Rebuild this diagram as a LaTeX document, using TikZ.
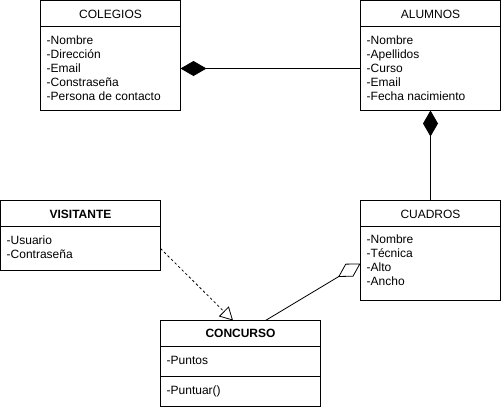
\documentclass[tikz,border=0pt]{standalone}
\usepackage{fontspec}
\setmainfont{Liberation Sans}
\usetikzlibrary{arrows.meta}
\tikzset{
  box/.style={draw, line width=1pt, rectangle, anchor=north west, inner sep=0pt, outer sep=0pt},
  hdr/.style={inner sep=0pt, font=\fontsize{12}{14}\selectfont},
  hdrb/.style={hdr, font=\fontsize{12}{14}\selectfont\bfseries},
  attr/.style={inner sep=0pt, anchor=base west, font=\fontsize{12}{14}\selectfont},
  sep/.style={line width=1pt},
  comp/.style={line width=1pt, -{Diamond[fill=black, length=26pt, width=15pt]}},
  aggr/.style={line width=0.8pt, -{Diamond[open, length=26pt, width=15pt]}},
  realize/.style={line width=0.8pt, dash pattern=on 2.5pt off 2.5pt, -{Triangle[open, length=13pt, width=14pt]}},
}
\begin{document}
\begin{tikzpicture}[x=1pt, y=-1pt]
\useasboundingbox (0,0) rectangle (501,410);

% COLEGIOS
\node[box, minimum width=140pt, minimum height=110pt] (colegios) at (40.5,0.5) {};
\draw[sep] ([yshift=-26pt]colegios.north west) -- ([yshift=-26pt]colegios.north east);
\node[hdr] (colegios-h) at ([yshift=-14pt]colegios.north) {COLEGIOS};
\foreach \t [count=\i from 0] in {-Nombre,-Dirección,-Email,-Constraseña,-Persona de contacto}
  \node[attr] (colegios-a\i) at ([xshift=6pt, yshift=-44pt-14pt*\i]colegios.north west) {\t};

% ALUMNOS
\node[box, minimum width=140pt, minimum height=110pt] (alumnos) at (360.5,0.5) {};
\draw[sep] ([yshift=-26pt]alumnos.north west) -- ([yshift=-26pt]alumnos.north east);
\node[hdr] (alumnos-h) at ([yshift=-14pt]alumnos.north) {ALUMNOS};
\foreach \t [count=\i from 0] in {-Nombre,-Apellidos,-Curso,-Email,-Fecha nacimiento}
  \node[attr] (alumnos-a\i) at ([xshift=6pt, yshift=-44pt-14pt*\i]alumnos.north west) {\t};

% VISITANTE
\node[box, minimum width=160pt, minimum height=70pt] (visitante) at (0.5,200.5) {};
\draw[sep] ([yshift=-26pt]visitante.north west) -- ([yshift=-26pt]visitante.north east);
\node[hdrb] (visitante-h) at ([yshift=-14pt]visitante.north) {VISITANTE};
\foreach \t [count=\i from 0] in {-Usuario,-Contraseña}
  \node[attr] (visitante-a\i) at ([xshift=6pt, yshift=-44pt-14pt*\i]visitante.north west) {\t};

% CUADROS
\node[box, minimum width=140pt, minimum height=100pt] (cuadros) at (360.5,200.5) {};
\draw[sep] ([yshift=-26pt]cuadros.north west) -- ([yshift=-26pt]cuadros.north east);
\node[hdr] (cuadros-h) at ([yshift=-14pt]cuadros.north) {CUADROS};
\foreach \t [count=\i from 0] in {-Nombre,-Técnica,-Alto,-Ancho}
  \node[attr] (cuadros-a\i) at ([xshift=6pt, yshift=-43pt-14pt*\i]cuadros.north west) {\t};

% CONCURSO
\node[box, minimum width=160pt, minimum height=86pt] (concurso) at (160.5,320.5) {};
\draw[sep] ([yshift=-26pt]concurso.north west) -- ([yshift=-26pt]concurso.north east);
\draw[sep] ([yshift=-56pt]concurso.north west) -- ([yshift=-56pt]concurso.north east);
\node[hdrb] (concurso-h) at ([yshift=-13pt]concurso.north) {CONCURSO};
\node[attr] (concurso-a0) at ([xshift=6pt, yshift=-44pt]concurso.north west) {-Puntos};
\node[attr] (concurso-m0) at ([xshift=6pt, yshift=-74pt]concurso.north west) {-Puntuar()};

% connectors
\draw[comp] ([yshift=-68pt]alumnos.north west) -- ([yshift=-68pt]colegios.north east);
\draw[comp] (cuadros.north) -- (alumnos.south);
\draw[realize] ([yshift=-48pt]visitante.north east) -- ([xshift=-7.5pt]concurso.north);
\draw[aggr] ([xshift=25pt]concurso.north) -- ([yshift=-63pt]cuadros.north west);
\end{tikzpicture}
\end{document}
